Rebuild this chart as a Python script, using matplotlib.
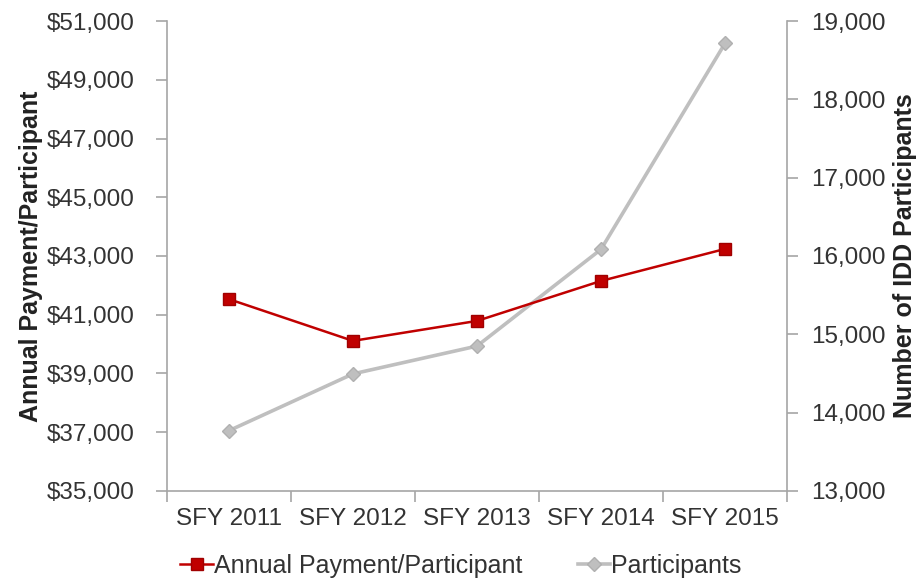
import matplotlib

matplotlib.use("Agg")
import matplotlib.pyplot as plt
from matplotlib.ticker import FuncFormatter

years = ["SFY 2011", "SFY 2012", "SFY 2013", "SFY 2014", "SFY 2015"]
payment = [41530, 40110, 40790, 42150, 43240]
participants = [13770, 14495, 14850, 16085, 18715]

plt.rcParams["font.family"] = ["Liberation Sans", "DejaVu Sans"]
axis_gray = "#A6A6A6"
text_col = "#333333"

fig = plt.figure(figsize=(9.22, 5.82), dpi=100)
ax = fig.add_axes([0.1811, 0.1564, 0.6725, 0.8075])
ax2 = ax.twinx()

x = list(range(len(years)))
l2, = ax2.plot(x, participants, color="#BFBFBF", lw=2.6, marker="D", ms=7,
               mfc="#BFBFBF", mec="#B0B0B0", label="Participants", zorder=2)
l1, = ax.plot(x, payment, color="#C00000", lw=1.8, marker="s", ms=8,
              mfc="#C00000", mec="#A00000", label="Annual Payment/Participant", zorder=3)
ax.set_zorder(ax2.get_zorder() + 1)
ax.patch.set_visible(False)

ax.set_xlim(-0.5, len(years) - 0.5)
ax.set_ylim(35000, 51000)
ax.set_yticks(range(35000, 51001, 2000))
ax.yaxis.set_major_formatter(FuncFormatter(lambda v, p: f"${v:,.0f}"))
ax2.set_ylim(13000, 19000)
ax2.set_yticks(range(13000, 19001, 1000))
ax2.yaxis.set_major_formatter(FuncFormatter(lambda v, p: f"{v:,.0f}"))

ax.set_xticks([i - 0.5 for i in range(len(years) + 1)], minor=False)
ax.set_xticklabels([])
ax.set_xticks(x, minor=True)
ax.set_xticklabels(years, minor=True)
ax.tick_params(axis="x", which="minor", length=0, labelsize=17.5, colors=text_col, pad=12)
ax.tick_params(axis="x", which="major", length=8, color=axis_gray, width=1.2)

for a in (ax, ax2):
    for s in a.spines.values():
        s.set_visible(False)
    a.tick_params(axis="y", length=8, color=axis_gray, width=1.2, labelsize=17.5, labelcolor=text_col)
ax.tick_params(axis="y", pad=15)
ax2.tick_params(axis="y", pad=9)
ax.spines["left"].set_visible(True)
ax.spines["bottom"].set_visible(True)
ax2.spines["right"].set_visible(True)
for s in (ax.spines["left"], ax.spines["bottom"], ax2.spines["right"]):
    s.set_color(axis_gray)
    s.set_linewidth(1.2)

ax.set_ylabel("Annual Payment/Participant", fontsize=18, fontweight="bold", color="#222222", labelpad=3)
ax2.set_ylabel("Number of IDD Participants", fontsize=18, fontweight="bold", color="#222222", labelpad=6)

fig.legend([l1, l2], ["Annual Payment/Participant", "Participants"], loc="center",
           bbox_to_anchor=(0.5, 1 - 566 / 582), ncol=2, frameon=False, fontsize=18,
           columnspacing=2.2, handlelength=1.3, handletextpad=0.05, labelcolor=text_col)

fig.savefig("out.png", dpi=100)
